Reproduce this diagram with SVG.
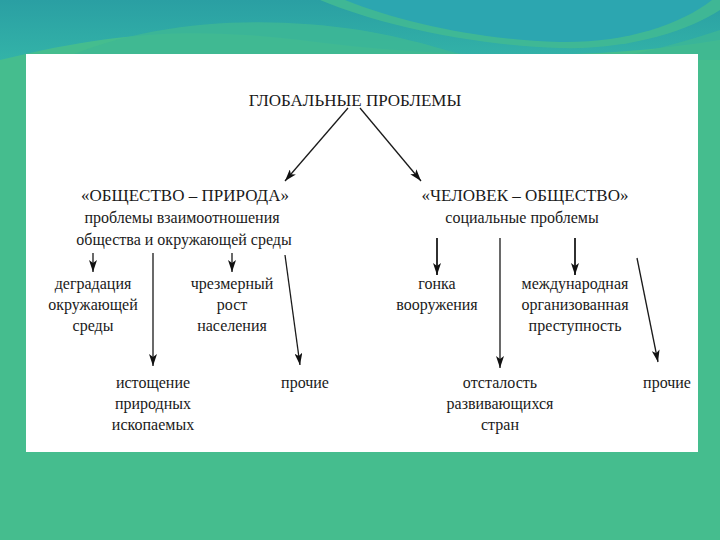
<svg xmlns="http://www.w3.org/2000/svg" width="720" height="540" viewBox="0 0 720 540">
<defs>
<linearGradient id="topg" x1="0" y1="0" x2="0" y2="1">
<stop offset="0" stop-color="#2a9fa3"/>
<stop offset="1" stop-color="#33b3a8"/>
</linearGradient>
<marker id="ah" viewBox="0 0 12 8" refX="12" refY="4" markerWidth="12" markerHeight="8" markerUnits="userSpaceOnUse" orient="auto">
<path d="M0,0 L12,4 L0,8 L3,4 z" fill="#111"/>
</marker>
<style>
.t text{font-size:16px;fill:#1a1a1a;text-anchor:middle}
.t .cap{font-size:17px}
.ln{stroke:#1a1a1a;stroke-width:1.3;fill:none}
.th{stroke-width:1.8}
</style>
</defs>
<rect width="720" height="540" fill="#45bd8e"/>
<path d="M0,0 H720 V40 C600,60 450,60 300,40 C200,28 120,30 0,60 Z" fill="url(#topg)"/>
<path d="M60,60 C150,20 260,15 360,30 C420,40 460,55 480,60 Z" fill="#3fb893" opacity="0.8"/>
<path d="M320,0 C380,25 470,45 560,48 C630,50 690,30 720,10 V0 Z" fill="#41b994" opacity="0.9"/>
<path d="M345,0 C400,22 480,40 560,42 C625,43 680,25 712,0 Z" fill="#2ca6b0"/>
<path d="M600,60 C650,52 690,40 720,30 V60 Z" fill="#3fb893" opacity="0.7"/>
<rect x="26" y="54" width="672" height="398" fill="#ffffff"/>

<g id="connectors">
<line class="ln" x1="348" y1="108" x2="285" y2="181" marker-end="url(#ah)"/>
<line class="ln" x1="360" y1="108" x2="421" y2="181" marker-end="url(#ah)"/>
<line class="ln" x1="93" y1="253" x2="93" y2="272" marker-end="url(#ah)"/>
<line class="ln" x1="153" y1="253" x2="153" y2="366" marker-end="url(#ah)"/>
<line class="ln" x1="232" y1="253" x2="232" y2="272" marker-end="url(#ah)"/>
<line class="ln" x1="285" y1="255" x2="300" y2="365" marker-end="url(#ah)"/>
<line class="ln th" x1="437" y1="238" x2="437" y2="275" marker-end="url(#ah)"/>
<line class="ln" x1="500" y1="238" x2="500" y2="368" marker-end="url(#ah)"/>
<line class="ln th" x1="575" y1="238" x2="575" y2="275" marker-end="url(#ah)"/>
<line class="ln" x1="637" y1="258" x2="658" y2="362" marker-end="url(#ah)"/>
</g>

<g class="t" font-family="Liberation Serif, Times New Roman, DejaVu Serif, serif">
<g id="root"><text class="cap" x="355" y="106">ГЛОБАЛЬНЫЕ ПРОБЛЕМЫ</text></g>
<g id="nature">
<text class="cap" x="185" y="201">«ОБЩЕСТВО – ПРИРОДА»</text>
<text x="182" y="223">проблемы взаимоотношения</text>
<text x="184" y="245">общества и окружающей среды</text>
</g>
<g id="society">
<text class="cap" x="525" y="201">«ЧЕЛОВЕК – ОБЩЕСТВО»</text>
<text x="522" y="223">социальные проблемы</text>
</g>
<g id="degradation">
<text x="93" y="289">деградация</text>
<text x="93" y="310">окружающей</text>
<text x="93" y="331">среды</text>
</g>
<g id="depletion">
<text x="153" y="388">истощение</text>
<text x="153" y="409">природных</text>
<text x="153" y="430">ископаемых</text>
</g>
<g id="population">
<text x="232" y="289">чрезмерный</text>
<text x="232" y="310">рост</text>
<text x="232" y="331">населения</text>
</g>
<g id="other1"><text x="305" y="388">прочие</text></g>
<g id="arms">
<text x="437" y="289">гонка</text>
<text x="437" y="310">вооружения</text>
</g>
<g id="backward">
<text x="500" y="388">отсталость</text>
<text x="500" y="409">развивающихся</text>
<text x="500" y="430">стран</text>
</g>
<g id="crime">
<text x="575" y="289">международная</text>
<text x="575" y="310">организованная</text>
<text x="575" y="331">преступность</text>
</g>
<g id="other2"><text x="667" y="388">прочие</text></g>
</g>
</svg>
